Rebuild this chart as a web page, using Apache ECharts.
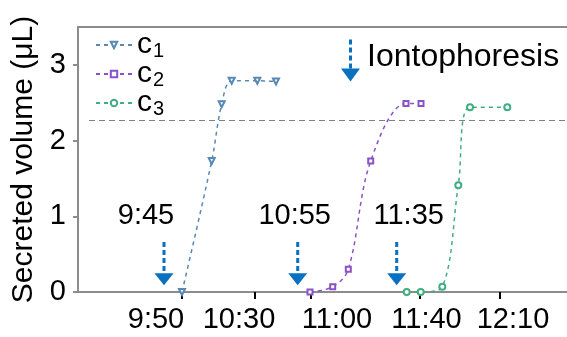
<!DOCTYPE html>
<html>
<head>
<meta charset="utf-8">
<script src="https://cdn.jsdelivr.net/npm/echarts@6/dist/echarts.min.js"></script>
<style>
  html, body { margin: 0; padding: 0; background: #fff; }
  #chart { width: 567px; height: 337px; }
</style>
</head>
<body>
<div id="chart"></div>
<script>
// Horizontal axis is a compressed time axis; positions are in axis units.
// Tick marks and their time labels sit at separate positions.
const tickPositions = [103.4, 176.7, 232.7, 342.2, 421.9];
const labelPositions = [78, 161, 259, 348.5, 435];
const tickLabels = ['9:50', '10:30', '11:00', '11:40', '12:10'];

// Secreted volume (µL) for the three collection runs
const c1X = [104, 133.7, 143.7, 153.7, 179.3, 198];
const c1Y = [0, 1.73, 2.48, 2.79, 2.79, 2.78];
const c2X = [232, 254.7, 270.3, 292.7, 328, 343];
const c2Y = [0, 0.07, 0.30, 1.73, 2.49, 2.49];
const c3X = [328.7, 342.7, 364.3, 380.3, 392, 429.3];
const c3Y = [0, 0, 0.07, 1.41, 2.44, 2.44];

// Reference volume level
const thresholdLevel = 2.27;

// Iontophoresis start times
const iontoTimes = ['9:45', '10:55', '11:35'];
const iontoPositions = [86, 219.7, 318.7];

const yTicks = [0, 1, 2, 3];

// Layout / style
const FONT = "'Liberation Sans', Arial, sans-serif";
const ARROW = '#0a70c0';
const AXIS_GREY = '#8c8c8c';
const labelDx = [-18, -3, 12];
const colors = ['#5689b4', '#8a52c8', '#3daf80'];

const zip = (xs, ys) => xs.map((x, i) => [x, ys[i]]);

const chart = echarts.init(document.getElementById('chart'), null, { renderer: 'canvas' });

function lineSeries(name, xs, ys, color, symbol, extra) {
  return Object.assign({
    name: name,
    type: 'line',
    data: zip(xs, ys),
    smooth: 0.35,
    symbol: symbol,
    symbolSize: 6,
    color: color,
    lineStyle: { color: color, width: 1.5, type: [4, 4] },
    itemStyle: { color: color, borderWidth: 1.2 },
    z: 3
  }, extra || {});
}

const option = {
  animation: false,
  textStyle: { fontFamily: FONT },
  grid: { left: 78, right: 0, top: 27, bottom: 45, containLabel: false },
  legend: {
    orient: 'vertical',
    left: 90,
    top: 24,
    itemWidth: 36,
    itemHeight: 8,
    itemGap: -3,
    data: ['c1', 'c2', 'c3'],
    // "c" with a subscript run number
    formatter: n => '{c|c}{s|' + n.slice(1) + '}',
    textStyle: {
      rich: {
        c: { fontSize: 30, lineHeight: 24, fontFamily: FONT, color: '#000' },
        s: { fontSize: 20, lineHeight: 24, padding: [12, 0, 0, 1], fontFamily: FONT, color: '#000' }
      }
    }
  },
  xAxis: [{
    type: 'value',
    min: 0,
    max: 489,
    position: 'bottom',
    splitLine: { show: false },
    axisLine: { show: true, lineStyle: { color: AXIS_GREY, width: 2 } },
    axisTick: {
      show: true, length: 7, inside: false,
      customValues: tickPositions,
      lineStyle: { color: '#000', width: 2 }
    },
    axisLabel: {
      customValues: labelPositions,
      formatter: v => tickLabels[labelPositions.indexOf(v)] || '',
      fontSize: 29, color: '#000', margin: 13, fontFamily: FONT
    }
  }, {
    type: 'value',
    min: 0,
    max: 489,
    position: 'top',
    splitLine: { show: false },
    axisLine: { show: true, lineStyle: { color: AXIS_GREY, width: 2 } },
    axisTick: { show: false },
    axisLabel: { show: false }
  }],
  yAxis: {
    type: 'value',
    min: 0,
    max: 3.5,
    interval: 1,
    name: 'Secreted volume (μL)',
    nameLocation: 'middle',
    nameGap: 34,
    nameTextStyle: { fontSize: 30, color: '#000', fontFamily: FONT },
    splitLine: { show: false },
    axisLine: { show: true, lineStyle: { color: AXIS_GREY, width: 2 } },
    axisTick: {
      show: true, length: 5,
      customValues: yTicks,
      lineStyle: { color: AXIS_GREY, width: 2 }
    },
    axisLabel: {
      customValues: yTicks,
      fontSize: 29, color: '#000', margin: 12, fontFamily: FONT
    }
  },
  series: [
    lineSeries('c1', c1X, c1Y, colors[0], 'emptyTriangle', {
      symbolRotate: 180,
      markLine: {
        silent: true,
        symbol: ['none', 'none'],
        label: { show: false },
        lineStyle: { color: '#808080', width: 1.2, type: [6, 4] },
        data: [[{ coord: [11, thresholdLevel] }, { coord: [489, thresholdLevel] }]]
      }
    }),
    lineSeries('c2', c2X, c2Y, colors[1], 'emptyRect', { symbolSize: 5 }),
    lineSeries('c3', c3X, c3Y, colors[2], 'emptyCircle', { symbolSize: 6 }),
    {
      name: 'iontophoresis',
      type: 'custom',
      clip: false,
      silent: true,
      z: 5,
      data: iontoPositions.map((x, i) => [x, i]),
      renderItem: function (params, api) {
        const x = api.value(0);
        const i = api.value(1);
        const top = api.coord([x, 0.66]);
        const tip = api.coord([x, 0.09]);
        const labelPt = api.coord([x, 1.0]);
        const headH = 12, headW = 19;
        return {
          type: 'group',
          children: [
            {
              type: 'line',
              shape: { x1: top[0], y1: top[1], x2: tip[0], y2: tip[1] - headH },
              style: { stroke: ARROW, lineWidth: 3, lineDash: [5, 3] }
            },
            {
              type: 'polygon',
              shape: { points: [[tip[0] - headW / 2, tip[1] - headH], [tip[0] + headW / 2, tip[1] - headH], [tip[0], tip[1]]] },
              style: { fill: ARROW }
            },
            {
              type: 'text',
              x: top[0] + labelDx[i],
              y: labelPt[1],
              style: {
                text: iontoTimes[i], fontSize: 29, fontFamily: FONT, fill: '#000',
                align: 'center', verticalAlign: 'middle'
              }
            }
          ]
        };
      }
    }
  ],
  graphic: [{
    type: 'group',
    left: 341,
    top: 37,
    children: [
      { type: 'line', shape: { x1: 9.5, y1: 0, x2: 9.5, y2: 29 }, style: { stroke: ARROW, lineWidth: 3, lineDash: [5, 3] } },
      { type: 'polygon', shape: { points: [[0, 29], [19, 29], [9.5, 42]] }, style: { fill: ARROW } },
      {
        type: 'text', x: 26, y: 18,
        style: { text: 'Iontophoresis', fontSize: 32, fontFamily: FONT, fill: '#000', verticalAlign: 'middle' }
      }
    ]
  }]
};

chart.setOption(option);
</script>
</body>
</html>
